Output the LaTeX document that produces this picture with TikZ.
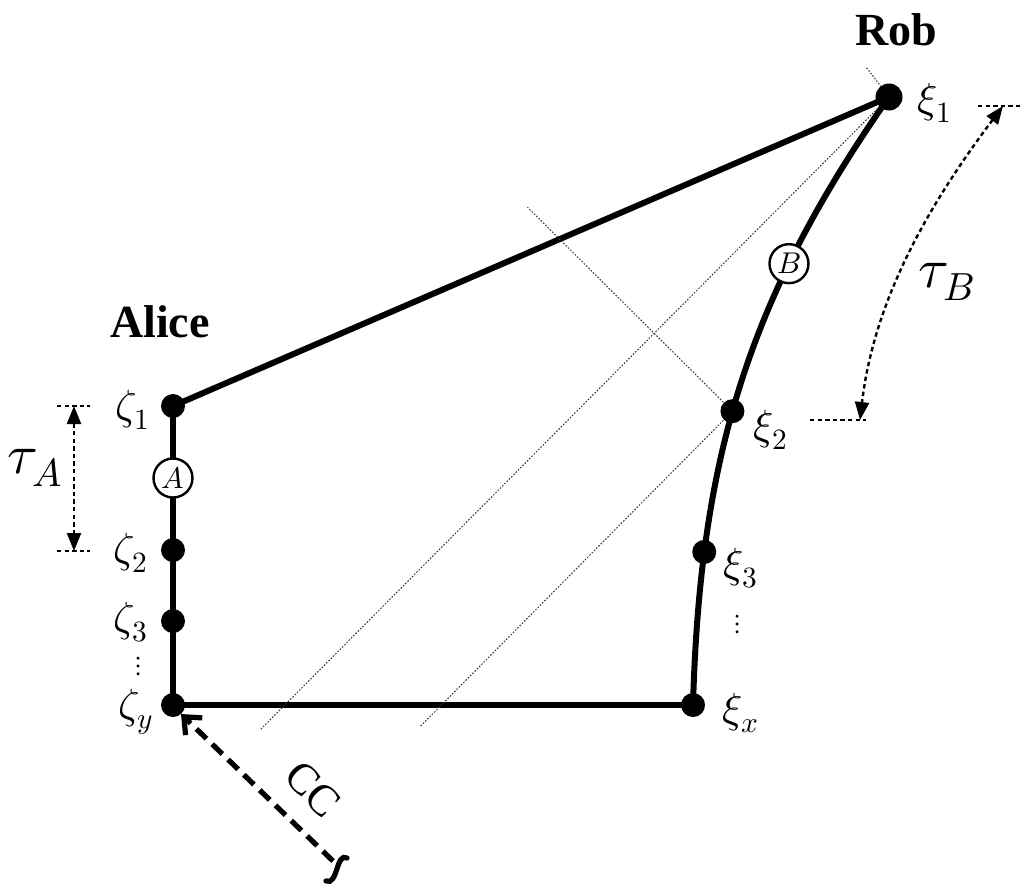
\documentclass[tikz,border=0pt]{standalone}
\usepackage{fontspec}
\setmainfont{Liberation Serif}
\usepackage{unicode-math}
\usetikzlibrary{arrows.meta,calc}
\begin{document}
\begin{tikzpicture}[x=0.5pt,y=-0.5pt,
  thickline/.style={line width=3pt},
  thinaux/.style={line width=0.5pt,dash pattern=on 0.8pt off 0.8pt,black!80},
  dimline/.style={line width=1.2pt,dash pattern=on 2.2pt off 1.6pt},
  dot/.style={circle,fill=black,inner sep=0pt,minimum size=12pt},
  clock/.style={circle,draw=black,fill=white,line width=1.2pt,inner sep=0pt,minimum size=19.5pt,font=\fontsize{15}{17}\selectfont},
  lab/.style={font=\fontsize{21}{24}\selectfont,inner sep=0pt},
  dotslab/.style={font=\fontsize{14}{16}\selectfont,inner sep=0pt},
  biglab/.style={font=\fontsize{28}{30}\selectfont,inner sep=0pt},
  personlab/.style={font=\fontsize{23}{26}\selectfont\bfseries,inner sep=0pt}
]
\useasboundingbox (0,0) rectangle (1021,883);
% positions
\coordinate (rob) at (889,97);
\coordinate (xx) at (693,705);
\coordinate (z1) at (173,406);
\coordinate (a) at (173,478);
\coordinate (z2) at (173,550);
\coordinate (z3) at (173,621);
\coordinate (zy) at (173,705);
% world lines
\draw[thickline] (rob) -- (z1);
\draw[thickline] (z1) -- (zy) -- (xx);
\draw[thickline] (rob) .. controls (749,297) and (700,455) .. (xx)
  coordinate[pos=0.29] (b)
  coordinate[pos=0.55] (x2)
  coordinate[pos=0.78] (x3);
% auxiliary dotted lines
\coordinate (e1) at (260,730);
\coordinate (e2) at ($(x2)+(-312,315)$);
\coordinate (e3) at ($(x2)+(-205,-204)$);
\coordinate (e4) at (866,67);
\draw[thinaux] (rob) -- (e1);
\draw[thinaux] (x2) -- (e2);
\draw[thinaux] (x2) -- (e3);
\draw[thinaux] (rob) -- (e4);
% dots and clocks
\node[dot,minimum size=13.5pt] (nrob) at (rob) {};
\node[dot] (nx2) at (x2) {};
\node[dot] (nx3) at (x3) {};
\node[dot] (nxx) at (xx) {};
\node[dot] (nz1) at (z1) {};
\node[dot] (nz2) at (z2) {};
\node[dot] (nz3) at (z3) {};
\node[dot] (nzy) at (zy) {};
\node[clock] (na) at (a) {$A$};
\node[clock] (nb) at (b) {$B$};
% labels
\node[personlab] (lrob) at (896,30) {Rob};
\node[personlab] (lal) at (160,322) {Alice};
\node[lab] (lx1) at (935,103) {$\xi_1$};
\node[lab] (lx2) at (771,430) {$\xi_2$};
\node[lab] (lx3) at (741,568) {$\xi_3$};
\node[dotslab] (ld1) at (738,624) {$\vdots$};
\node[lab] (lxx) at (741,713) {$\xi_x$};
\node[lab] (lz1) at (133,410) {$\zeta_1$};
\node[lab] (lz2) at (131,553) {$\zeta_2$};
\node[lab] (lz3) at (131,622) {$\zeta_3$};
\node[dotslab] (ld2) at (139,666) {$\vdots$};
\node[lab] (lzy) at (136,712) {$\zeta_y$};
\node[biglab] (lta) at (35,468) {$\tau_A$};
\node[biglab] (ltb) at (947,282) {$\tau_B$};
% tau A dimension
\coordinate (ta1) at (57,406);
\coordinate (ta2) at (90,406);
\coordinate (ta3) at (57,551);
\coordinate (ta4) at (90,551);
\coordinate (tat) at (74,406);
\coordinate (tab) at (74,551);
\draw[dimline] (ta1) -- (ta2);
\draw[dimline] (ta3) -- (ta4);
\draw[dimline,{Triangle[length=9pt,width=7pt]}-{Triangle[length=9pt,width=7pt]}] (tat) -- (tab);
% tau B dimension
\coordinate (tb1) at (978,106);
\coordinate (tb2) at (1021,106);
\coordinate (tb3) at (810,420);
\coordinate (tb4) at (866,420);
\coordinate (tbt) at (1003,106);
\coordinate (tbb) at (860,420);
\draw[dimline] (tb1) -- (tb2);
\draw[dimline] (tb3) -- (tb4);
\draw[dimline,{Triangle[length=9pt,width=7pt]}-{Triangle[length=9pt,width=7pt]}] (tbt) .. controls (940,190) and (875,290) .. (tbb);
% classical communication
\coordinate (cct) at (333,861);
\coordinate (cch) at (181,714);
\draw[line width=2.6pt,dash pattern=on 7pt off 4pt,-{Straight Barb[length=7pt,width=12pt,line width=2.6pt]}] (cct) -- (cch);
\coordinate (sq1) at (347,858);
\coordinate (sq2) at (326,881);
\draw[line width=2.6pt,line cap=round] (sq1) .. controls (336,852) and (338,886) .. (sq2);
\node[font=\fontsize{22}{24}\selectfont,rotate=-45,inner sep=0pt] (lcc) at (313,789) {CC};
\end{tikzpicture}
\end{document}
